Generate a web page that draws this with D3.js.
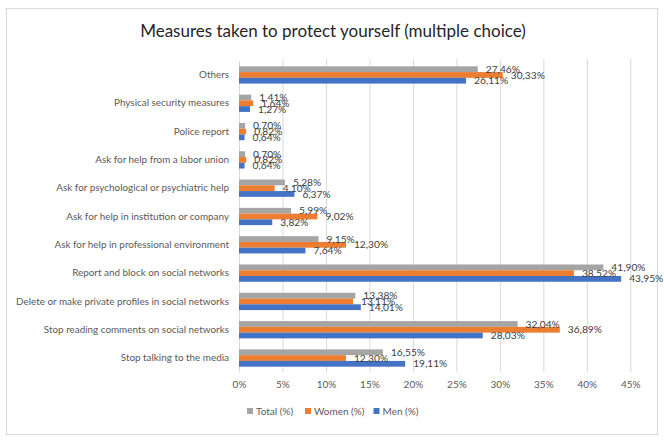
<!DOCTYPE html>
<html>
<head>
<meta charset="utf-8">
<script src="https://cdn.jsdelivr.net/npm/d3@7"></script>
<style>
  body { margin: 0; background: #fff; }
  text { font-family: Lato, "Open Sans", sans-serif; }
</style>
</head>
<body>
<svg id="chart" width="664" height="441"></svg>
<script>
const categories = [
  "Others",
  "Physical security measures",
  "Police report",
  "Ask for help from a labor union",
  "Ask for psychological or psychiatric help",
  "Ask for help in institution or company",
  "Ask for help in professional environment",
  "Report and block on social networks",
  "Delete or make private profiles in social networks",
  "Stop reading comments on social networks",
  "Stop talking to the media"
];
const seriesNames = ["Total (%)", "Women (%)", "Men (%)"];
const totalValues = [27.46, 1.41, 0.70, 0.70, 5.28, 5.99, 9.15, 41.90, 13.38, 32.04, 16.55];
const womenValues = [30.33, 1.64, 0.82, 0.82, 4.10, 9.02, 12.30, 38.52, 13.11, 36.89, 12.30];
const menValues   = [26.11, 1.27, 0.64, 0.64, 6.37, 3.82, 7.64, 43.95, 14.01, 28.03, 19.11];
const xTicks = [0, 5, 10, 15, 20, 25, 30, 35, 40, 45];
const colors = ["#A5A5A5", "#ED7D31", "#4472C4"];

const svg = d3.select("#chart");

// chart border
svg.append("rect").attr("x", 6.5).attr("y", 8.5).attr("width", 651).attr("height", 426)
  .attr("fill", "#fff").attr("stroke", "#D9D9D9").attr("stroke-width", 1);

svg.append("text").attr("x", 333).attr("y", 37).attr("text-anchor", "middle")
  .attr("font-size", 17).attr("fill", "#262626").text("Measures taken to protect yourself (multiple choice)");

const plot = { left: 239, right: 630.3, top: 60.8, bottom: 372.2 };
const x = d3.scaleLinear().domain([0, 45]).range([plot.left, plot.right]);
const y = d3.scaleBand().domain(categories).range([plot.top, plot.bottom])
  .paddingInner(0.39).paddingOuter(0.195);
const ySub = d3.scaleBand().domain(seriesNames).range([0, y.bandwidth()]);

// gridlines
svg.append("g").selectAll("line").data(xTicks.slice(1)).join("line")
  .attr("x1", d => x(d) + 0.5).attr("x2", d => x(d) + 0.5)
  .attr("y1", plot.top - 2).attr("y2", plot.bottom)
  .attr("stroke", "#D9D9D9").attr("stroke-width", 1);

// x tick labels
const xAxis = d3.axisBottom(x).tickValues(xTicks).tickSize(0).tickFormat(d => d + "%");
const gx = svg.append("g").attr("transform", `translate(0,${plot.bottom + 6})`).call(xAxis);
gx.select(".domain").remove();
gx.selectAll("text").attr("font-size", 10).attr("fill", "#595959")
  .style("font-family", "Lato, 'Open Sans', sans-serif");

// y axis
const yAxis = d3.axisLeft(y).tickSize(0).tickPadding(10);
const gy = svg.append("g").attr("transform", `translate(${plot.left},0)`).call(yAxis);
gy.select(".domain").attr("stroke", "#D9D9D9");
gy.selectAll("text").attr("font-size", 9.9).attr("fill", "#595959")
  .style("font-family", "Lato, 'Open Sans', sans-serif");

const rows = categories.map((c, i) => ({
  cat: c,
  vals: [totalValues[i], womenValues[i], menValues[i]]
}));

const groups = svg.append("g").selectAll("g").data(rows).join("g")
  .attr("transform", d => `translate(0,${y(d.cat)})`);

groups.selectAll("rect").data(d => d.vals.map((v, j) => ({ v, s: seriesNames[j], j })))
  .join("rect")
  .attr("x", x(0))
  .attr("y", d => ySub(d.s))
  .attr("width", d => x(d.v) - x(0))
  .attr("height", ySub.bandwidth())
  .attr("fill", d => colors[d.j]);

const fmt = v => v.toFixed(2).replace(".", ",") + "%";
groups.selectAll("text.lbl").data(d => d.vals.map((v, j) => ({ v, s: seriesNames[j], j })))
  .join("text").attr("class", "lbl")
  .attr("x", d => x(d.v) + 8)
  .attr("y", d => ySub(d.s) + ySub.bandwidth() / 2)
  .attr("dy", "0.35em")
  .attr("font-size", 10.2).attr("fill", "#404040")
  .text(d => fmt(d.v));

// legend
const legend = svg.append("g").attr("transform", "translate(247,411)");
const legX = [0, 58, 126.5];
seriesNames.forEach((s, i) => {
  const g = legend.append("g").attr("transform", `translate(${legX[i]},0)`);
  g.append("rect").attr("x", 0).attr("y", -3).attr("width", 6).attr("height", 6).attr("fill", colors[i]);
  g.append("text").attr("x", 9).attr("y", 0).attr("dy", "0.35em")
    .attr("font-size", 10).attr("fill", "#595959").text(s);
});
</script>
</body>
</html>
